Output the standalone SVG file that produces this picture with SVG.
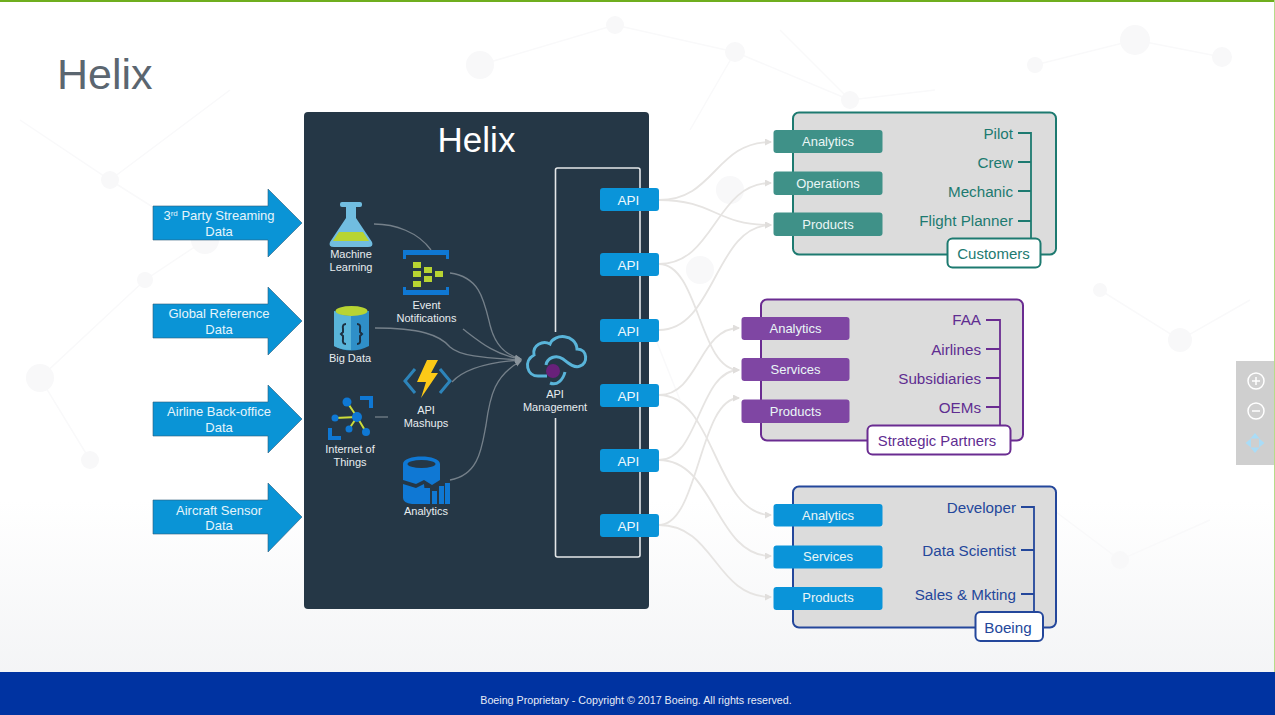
<svg xmlns="http://www.w3.org/2000/svg" width="1275" height="715" viewBox="0 0 1275 715">
<style>
text{font-family:"Liberation Sans",Arial,sans-serif}
.lbl{fill:#e8edf0;font-size:11px;text-anchor:middle}
.arr{fill:#0a94d6;stroke:#2b5d7a;stroke-width:.6}
.arrt{fill:#e6f4fb;font-size:13px;text-anchor:middle}
.api{fill:#0a94d9}
.apit{fill:#eef8fd;font-size:13.5px;text-anchor:middle}
.pillt{fill:#eaf6f6;font-size:13px;text-anchor:middle}
.role{font-size:15.2px;text-anchor:end}
.grp{fill:#dcdcdc;stroke-width:2}
.tag{fill:#fff;stroke-width:2}
.wire{fill:none;stroke-width:1.8}
.in{fill:none;stroke:#75808a;stroke-width:1.3}
.out{fill:none;stroke:#e6e4e2;stroke-width:1.8;marker-end:url(#ah)}
.net circle{fill:#f8f8f9}
.net path{fill:none;stroke:#f9f9fa;stroke-width:1.5}
.teal{fill:#1d7a70}.tealb{stroke:#1d7a70}
.pt{fill:#3f9188}
.purp{fill:#5f2d91}.purpb{stroke:#6a2c91}
.pp{fill:#7f46a3}
.blu{fill:#24479b}.blub{stroke:#24479b}
</style>
<defs>
<linearGradient id="bg" x1="0" y1="0" x2="0" y2="1"><stop offset="0" stop-color="#fff"/><stop offset=".7" stop-color="#fff"/><stop offset="1" stop-color="#f1f2f4"/></linearGradient>
<marker id="ah" markerWidth="7" markerHeight="7" refX="6" refY="3.5" orient="auto" markerUnits="userSpaceOnUse"><path d="M0 0L7 3.5L0 7z" fill="#e0dedc"/></marker>
<marker id="ih" markerWidth="7" markerHeight="7" refX="6" refY="3.5" orient="auto" markerUnits="userSpaceOnUse"><path d="M0 .5L7 3.5L0 6.500z" fill="#8a949c"/></marker>
</defs>
<rect width="1275" height="715" fill="url(#bg)"/>
<g class="net">
<path d="M480 65L615 25L735 52L850 100M1035 65L1135 40L1222 57M690 130L735 52M20 120L110 180L205 240L145 280L40 378L90 460M1100 290L1180 340L1250 300M1040 500L1120 560L1210 520M110 180L230 90M780 30L850 100L935 90M680 400L640 300"/>
<circle cx="480" cy="65" r="14"/><circle cx="615" cy="25" r="9"/><circle cx="735" cy="52" r="10"/><circle cx="1135" cy="40" r="15"/><circle cx="1035" cy="65" r="8"/><circle cx="1222" cy="57" r="10"/><circle cx="205" cy="240" r="14"/><circle cx="145" cy="280" r="8"/><circle cx="40" cy="378" r="14"/><circle cx="110" cy="180" r="9"/><circle cx="730" cy="190" r="14"/><circle cx="1180" cy="340" r="12"/><circle cx="1100" cy="290" r="7"/><circle cx="1120" cy="560" r="9"/><circle cx="90" cy="460" r="9"/><circle cx="700" cy="270" r="14"/><circle cx="850" cy="100" r="9"/>
</g>
<rect width="1275" height="2" fill="#6fae1e"/>
<rect x="1274" width="1" height="672" fill="#b5dc8a"/>
<text x="57" y="89" font-size="43" fill="#5b6670">Helix</text>

<g id="input-streaming"><path class="arr" d="M153 206H268V189L302 223L268 257V240H153Z"/><text class="arrt" x="219" y="220">3<tspan font-size="8" dy="-4">rd</tspan><tspan dy="4"> Party Streaming</tspan></text><text class="arrt" x="219" y="236">Data</text></g>
<g id="input-reference"><path class="arr" d="M153 304H268V287L302 321L268 355V338H153Z"/><text class="arrt" x="219" y="318">Global Reference</text><text class="arrt" x="219" y="334">Data</text></g>
<g id="input-backoffice"><path class="arr" d="M153 402H268V385L302 419L268 453V436H153Z"/><text class="arrt" x="219" y="416">Airline Back-office</text><text class="arrt" x="219" y="432">Data</text></g>
<g id="input-sensor"><path class="arr" d="M153 500H268V483L302 517L268 552V534H153Z"/><text class="arrt" x="219" y="515">Aircraft Sensor</text><text class="arrt" x="219" y="530">Data</text></g>

<g id="helix-panel"><rect x="304" y="112" width="345" height="497" rx="4" fill="#253746"/><text x="476.500" y="152" font-size="35" fill="#fff" text-anchor="middle">Helix</text></g>

<g id="inner-connectors">
<path class="in" d="M374 224C395 224 418 232 431 250"/>
<path class="in" d="M450 273C480 277 484 300 490 325C495 345 505 355 521 359" marker-end="url(#ih)"/>
<path class="in" d="M463 329C480 342 495 355 521 359" marker-end="url(#ih)"/>
<path class="in" d="M375 328C420 328 440 335 450 347C462 358 495 358 521 360" marker-end="url(#ih)"/>
<path class="in" d="M452 382C465 368 490 362 521 360" marker-end="url(#ih)"/>
<path class="in" d="M375 417H388"/>
<path class="in" d="M450 480C480 475 482 445 486 425C490 395 495 375 521 361" marker-end="url(#ih)"/>
</g>

<g id="machine-learning">
<path d="M346 205H356V218L372 242Q374 247 368 247H334Q328 247 330 242L346 218Z" fill="#71bde0"/><rect x="340" y="202" width="22" height="5" rx="2" fill="#71bde0"/>
<path d="M339 232H363L369 241H333Z" fill="#b8d432"/>
<text class="lbl" x="351" y="258">Machine</text><text class="lbl" x="351" y="271">Learning</text></g>
<g id="event-notifications">
<path d="M403 250H449V259H446V255H406V259H403Z" fill="#0f78d4"/><path d="M403 295H449V287H446V290H406V287H403Z" fill="#0f78d4"/>
<g fill="#b8d432"><rect x="413" y="262" width="8" height="6"/><rect x="413" y="271" width="8" height="6"/><rect x="413" y="281" width="8" height="6"/><rect x="424" y="267" width="8" height="6"/><rect x="424" y="276" width="8" height="6"/><rect x="435" y="271" width="8" height="6"/></g>
<text class="lbl" x="426.500" y="309">Event</text><text class="lbl" x="426.500" y="322">Notifications</text></g>
<g id="big-data">
<path d="M334 311V346Q351 355 369 346V311Z" fill="#2f8fc8"/><path d="M334 311V346Q341 350 351 350V316Q341 316 334 311Z" fill="#59b4d9"/>
<ellipse cx="351.500" cy="311" rx="16" ry="5" fill="#b8d432"/>
<path d="M346 324Q342 324 343 329V332L341 334L343 336V339Q342 344 346 344M357 324Q361 324 360 329V332L362 334L360 336V339Q361 344 357 344" fill="none" stroke="#1c3042" stroke-width="2"/>
<text class="lbl" x="350" y="362">Big Data</text></g>
<g id="api-mashups">
<path d="M415 369L405 381L415 393M440 369L450 381L440 393" fill="none" stroke="#2d84ba" stroke-width="3"/>
<path d="M427 360H438L431 373H438L421 398L426 382H417Z" fill="#fcc917"/>
<text class="lbl" x="426" y="414">API</text><text class="lbl" x="426" y="427">Mashups</text></g>
<g id="iot">
<path d="M360 396H373V408H369V400H360ZM328 428H332V436H341V440H328Z" fill="#0f78d4"/>
<path d="M347 402L357 417M335 418L357 417M349 429L357 417M366 432L357 417" stroke="#cddc39" stroke-width="2"/>
<g fill="#0f78d4"><circle cx="347" cy="402" r="4.500"/><circle cx="335" cy="418" r="3.500"/><circle cx="349" cy="429" r="3.500"/><circle cx="366" cy="432" r="4"/><circle cx="357" cy="417" r="5"/></g>
<text class="lbl" x="350" y="453">Internet of</text><text class="lbl" x="350" y="466">Things</text></g>
<g id="analytics-icon">
<path d="M403 464C403 454 440 454 440 464V480L432 485L424 480L416 484L403 480ZM403 484L416 488L424 484L426 504H412Q403 503 403 498Z" fill="#0f78d4"/>
<ellipse cx="421.500" cy="464" rx="14" ry="4" fill="#253746"/>
<path d="M424 488H430V504H424ZM432 491H437V504H432ZM439 486H444V504H439ZM445 483H450V504H445Z" fill="#0f78d4"/>
<text class="lbl" x="426" y="515">Analytics</text></g>
<g id="api-management">
<path d="M547 376H538C527 376 523 361 534 355C532 345 543 340 550 344C554 333 576 334 577 349C588 349 588 364 580 366C575 369 568 363 563 359C556 354 547 358 546 365" fill="none" stroke="#59b4d9" stroke-width="3"/>
<path d="M550 383C557 386 563 380 565 372" fill="none" stroke="#59b4d9" stroke-width="3"/>
<circle cx="553" cy="371" r="7" fill="#68217a"/>
<text class="lbl" x="555" y="398">API</text><text class="lbl" x="555" y="411">Management</text></g>

<path id="api-bus" d="M555.500 332V170Q555.500 168 557.500 168H638Q640 168 640 170V555Q640 557 638 557H557.500Q555.500 557 555.500 555V418" fill="none" stroke="#e4e7e9" stroke-width="1.600"/>

<g id="connectors">
<path class="out" d="M659 200C715 200 715 142 771 142"/>
<path class="out" d="M659 200C715 200 715 225 771 225"/>
<path class="out" d="M659 264C715 264 715 183 771 183"/>
<path class="out" d="M659 330C715 330 715 225 771 225"/>
<path class="out" d="M659 264C699 264 699 370 739 370"/>
<path class="out" d="M659 395C699 395 699 328 739 328"/>
<path class="out" d="M659 460C699 460 699 370 739 370"/>
<path class="out" d="M659 525C699 525 699 398 739 398"/>
<path class="out" d="M659 395C715 395 715 515 771 515"/>
<path class="out" d="M659 460C715 460 715 556 771 556"/>
<path class="out" d="M659 525C715 525 715 597 771 597"/>
</g>

<g id="api-1"><rect class="api" x="600" y="188" width="59" height="23" rx="3"/><text class="apit" x="628.500" y="205">API</text></g>
<g id="api-2"><rect class="api" x="600" y="253" width="59" height="23" rx="3"/><text class="apit" x="628.500" y="270">API</text></g>
<g id="api-3"><rect class="api" x="600" y="319" width="59" height="23" rx="3"/><text class="apit" x="628.500" y="336">API</text></g>
<g id="api-4"><rect class="api" x="600" y="384" width="59" height="23" rx="3"/><text class="apit" x="628.500" y="401">API</text></g>
<g id="api-5"><rect class="api" x="600" y="449" width="59" height="23" rx="3"/><text class="apit" x="628.500" y="466">API</text></g>
<g id="api-6"><rect class="api" x="600" y="514" width="59" height="23" rx="3"/><text class="apit" x="628.500" y="531">API</text></g>

<g id="customers">
<rect class="grp tealb" x="793" y="112.500" width="263" height="142" rx="6"/>
<path class="wire tealb" d="M1018 133H1031V238M1018 162H1031M1018 191H1031M1018 221H1031"/>
<rect class="pt" x="773.500" y="130" width="109" height="23" rx="3"/><rect class="pt" x="773.500" y="171.500" width="109" height="23.500" rx="3"/><rect class="pt" x="773.500" y="212.500" width="109" height="23.500" rx="3"/>
<text class="pillt" x="828" y="146">Analytics</text><text class="pillt" x="828" y="188">Operations</text><text class="pillt" x="828" y="229">Products</text>
<g class="teal"><text class="role" x="1013" y="139">Pilot</text><text class="role" x="1013" y="168">Crew</text><text class="role" x="1013" y="197">Mechanic</text><text class="role" x="1013" y="226">Flight Planner</text></g>
<rect class="tag tealb" x="947.500" y="238.500" width="93" height="29" rx="5"/><text class="teal" x="993.500" y="259" font-size="15" text-anchor="middle">Customers</text>
</g>

<g id="partners">
<rect class="grp purpb" x="761" y="299.500" width="262" height="141" rx="6"/>
<path class="wire purpb" d="M986 320H1000V425M986 349H1000M986 378H1000M986 407H1000"/>
<rect class="pp" x="741.500" y="317" width="108" height="23" rx="3"/><rect class="pp" x="741.500" y="358" width="108" height="23" rx="3"/><rect class="pp" x="741.500" y="399.500" width="108" height="23.500" rx="3"/>
<text class="pillt" x="795.500" y="333">Analytics</text><text class="pillt" x="795.500" y="374">Services</text><text class="pillt" x="795.500" y="416">Products</text>
<g class="purp"><text class="role" x="981" y="325">FAA</text><text class="role" x="981" y="355">Airlines</text><text class="role" x="981" y="384">Subsidiaries</text><text class="role" x="981" y="413">OEMs</text></g>
<rect class="tag purpb" x="867.500" y="425.500" width="143" height="29" rx="5"/><text class="purp" x="937" y="446" font-size="14.800" text-anchor="middle">Strategic Partners</text>
</g>

<g id="boeing">
<rect class="grp blub" x="793" y="486.500" width="263" height="141" rx="6"/>
<path class="wire blub" d="M1021 507H1034V612M1021 550H1034M1021 594H1034"/>
<rect class="api" x="773.500" y="504" width="109" height="22.500" rx="3"/><rect class="api" x="773.500" y="545.500" width="109" height="23" rx="3"/><rect class="api" x="773.500" y="587" width="109" height="23" rx="3"/>
<text class="pillt" x="828" y="520">Analytics</text><text class="pillt" x="828" y="561">Services</text><text class="pillt" x="828" y="602">Products</text>
<g class="blu"><text class="role" x="1016" y="513">Developer</text><text class="role" x="1016" y="556">Data Scientist</text><text class="role" x="1016" y="600">Sales &amp; Mkting</text></g>
<rect class="tag blub" x="975.500" y="612" width="67.500" height="29" rx="5"/><text class="blu" x="1008" y="633" font-size="15.200" text-anchor="middle">Boeing</text>
</g>

<g id="footer"><rect y="672" width="1275" height="43" fill="#0033a1"/><text x="636" y="704" font-size="10.700" fill="#e6ebf6" text-anchor="middle">Boeing Proprietary - Copyright © 2017 Boeing. All rights reserved.</text></g>

<g id="zoom-controls"><rect x="1236" y="361" width="38" height="104" fill="#cfcfcf"/>
<g fill="none" stroke="#fff" stroke-width="1.500"><circle cx="1256" cy="381" r="8"/><path d="M1252 381H1260M1256 377V385"/><circle cx="1256" cy="411" r="8"/><path d="M1252 411H1260"/></g>
<path d="M1255 433L1259.500 438.500H1250.500ZM1255 453L1259.500 447.500H1250.500ZM1245.500 443L1251 438.500V447.500ZM1264.500 443L1259 438.500V447.500Z" fill="#a9dcf7"/></g>
</svg>
